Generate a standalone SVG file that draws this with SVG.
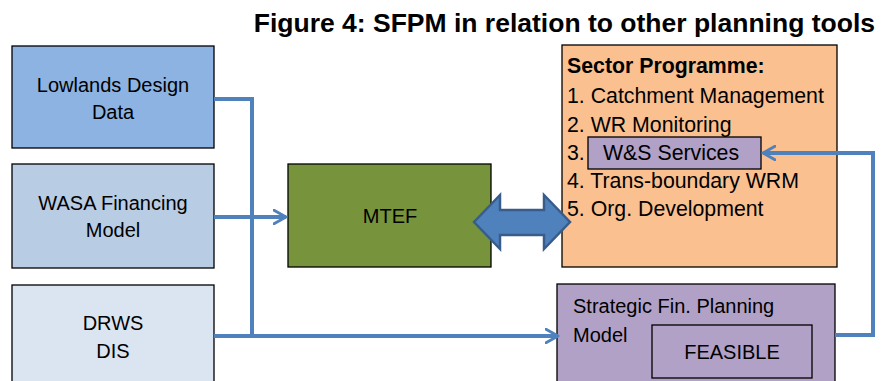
<svg xmlns="http://www.w3.org/2000/svg" width="883" height="381" viewBox="0 0 883 381">
  <style>
    .box { stroke: #000; stroke-width: 1.3; }
    .lbl { font-family: "Liberation Sans", Arial, sans-serif; font-size: 20px; fill: #000; }
    .item { font-family: "Liberation Sans", Arial, sans-serif; font-size: 21.3px; fill: #000; }
    .wire { fill: none; stroke: #4F81BD; stroke-width: 4; }
    .title { font-family: "Liberation Sans", Arial, sans-serif; font-size: 26.5px; font-weight: bold; fill: #000; }
  </style>
  <defs>
    <marker id="head" viewBox="0 0 12 12" refX="10" refY="6" markerWidth="4" markerHeight="4" markerUnits="strokeWidth" orient="auto">
      <path d="M1,1 L10,6 L1,11" fill="none" stroke="#4F81BD" stroke-width="2.2" stroke-linecap="round" stroke-linejoin="round"/>
    </marker>
  </defs>
  <rect width="883" height="381" fill="#fff"/>

  <text class="title" x="875" y="32" text-anchor="end">Figure 4: SFPM in relation to other planning tools</text>

  <g id="lowlands">
    <rect class="box" x="12" y="46" width="202" height="102" fill="#8DB3E2"/>
    <text class="lbl" x="113" y="92" text-anchor="middle">Lowlands Design</text>
    <text class="lbl" x="113" y="119" text-anchor="middle">Data</text>
  </g>
  <g id="wasa">
    <rect class="box" x="12" y="164" width="202" height="104" fill="#B8CCE4"/>
    <text class="lbl" x="113" y="210" text-anchor="middle">WASA Financing</text>
    <text class="lbl" x="113" y="237" text-anchor="middle">Model</text>
  </g>
  <g id="drws">
    <rect class="box" x="12" y="285" width="202" height="110" fill="#DBE5F1"/>
    <text class="lbl" x="113" y="330" text-anchor="middle">DRWS</text>
    <text class="lbl" x="113" y="358" text-anchor="middle">DIS</text>
  </g>
  <g id="mtef">
    <rect class="box" x="288" y="164" width="203" height="103" fill="#77933C"/>
    <text class="lbl" x="390" y="223" text-anchor="middle">MTEF</text>
  </g>
  <g id="sector">
    <rect class="box" x="562" y="45" width="275" height="222" fill="#FAC090"/>
    <text class="item" x="567" y="73" font-weight="bold" font-size="19">Sector Programme:</text>
    <text class="item" x="567" y="103">1. Catchment Management</text>
    <text class="item" x="567" y="132">2. WR Monitoring</text>
    <text class="item" x="567" y="160">3.</text>
    <text class="item" x="567" y="188">4. Trans-boundary WRM</text>
    <text class="item" x="567" y="216">5. Org. Development</text>
  </g>
  <g id="ws-services">
    <rect class="box" x="588" y="137" width="173" height="32" fill="#B2A1C7"/>
    <text class="item" x="603" y="160">W&amp;S Services</text>
  </g>
  <g id="sfpm">
    <rect class="box" x="557" y="284" width="278" height="110" fill="#B2A1C7"/>
    <text class="lbl" x="573" y="313">Strategic Fin. Planning</text>
    <text class="lbl" x="573" y="342">Model</text>
  </g>
  <g id="feasible">
    <rect class="box" x="652" y="325" width="160" height="53" fill="#B2A1C7"/>
    <text class="lbl" x="732" y="359" text-anchor="middle">FEASIBLE</text>
  </g>

  <g id="connectors">
    <polyline class="wire" points="214,99 252,99 252,336"/>
    <polyline class="wire" points="214,217 286,217" marker-end="url(#head)"/>
    <polyline class="wire" points="214,336 558,336" marker-end="url(#head)"/>
    <polyline class="wire" points="835,335 873,335 873,153 763,153" marker-end="url(#head)"/>
    <path d="M474,222 L500,195 L500,210 L544,210 L544,195 L570,222 L544,249 L544,235 L500,235 L500,249 Z" fill="#4F81BD" stroke="#385D8A" stroke-width="2.5" stroke-linejoin="miter"/>
  </g>
</svg>
